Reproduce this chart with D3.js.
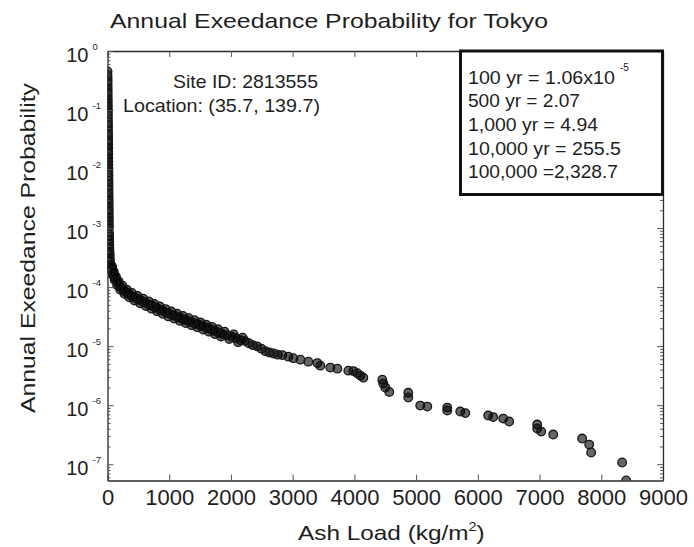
<!DOCTYPE html>
<html>
<head>
<meta charset="utf-8">
<script src="https://cdn.jsdelivr.net/npm/d3@7"></script>
<style>
  body { margin: 0; background: #fff; }
  svg { display: block; }
  text { font-family: "Liberation Sans", Arial, Helvetica, sans-serif; fill: #1e1e1e; }
</style>
</head>
<body>
<svg id="chart" width="694" height="547"></svg>
<script>
// Ash load (kg/m^2) for each simulated event
const ashLoad = [
  1, 1, 2, 2, 3, 3, 4, 4, 5, 5, 6, 6, 7, 7, 8, 8, 9, 9, 10, 10,
  11, 11, 12, 12, 13, 13, 14, 14, 15, 15, 16, 16, 17, 17, 18, 18, 19, 19, 20, 20,
  21, 21, 22, 22, 23, 24,
  25, 26, 27, 28, 29, 30, 32, 34, 36, 39, 42,
  57, 68, 79, 94, 108, 126, 146, 168, 194, 223,
  256, 291, 332, 372, 416, 461, 507, 554, 599, 644,
  690, 735, 780, 826, 871, 916, 963, 1010, 1057, 1104,
  1151, 1198, 1245, 1292, 1339, 1386, 1433, 1480, 1527, 1574,
  1619, 1668, 1716, 1765, 1813, 1862, 1935, 2008, 2080, 2153,
  2226, 2291, 2356, 2424, 2493, 2558, 2623, 2692, 2760, 2833,
  2930, 3011, 3125, 3254, 3400, 3448, 3610, 3724, 3902, 3983,
  4048, 4096, 4145, 4452, 4468, 4501, 4565, 4873, 4873, 5067,
  5181, 5505, 5505, 5715, 5796, 6168, 6249, 6411, 6508, 6962,
  6962, 7026, 7221, 7690, 7804, 7836, 8338, 8403,
  // events inside the dense low-load band
  50, 62, 73, 86, 101, 117, 136, 157, 181, 208,
  240, 274, 312, 352, 394, 438, 484, 530, 576, 622,
  667, 712, 758, 803, 848, 894, 940, 986, 1034, 1080,
  1128, 1174, 1222, 1268, 1316, 1362, 1410, 1456, 1504, 1550,
  1596, 1644, 1692, 1740, 1789, 1838, 1898, 1972, 2044, 2116,
  2190
];

// Annual exceedance probability of each event (same order as ashLoad)
const exceedProb = [
  0.45, 0.39, 0.34, 0.30, 0.26, 0.23, 0.20, 0.175, 0.153, 0.134,
  0.117, 0.102, 0.089, 0.078, 0.068, 0.059, 0.052, 0.045, 0.039, 0.034,
  0.030, 0.026, 0.023, 0.020, 0.0175, 0.0153, 0.0134, 0.0117, 0.0102, 0.0089,
  0.0078, 0.0068, 0.0059, 0.0052, 0.0045, 0.0039, 0.0034, 0.0030, 0.0026, 0.0023,
  0.0020, 0.00175, 0.00153, 0.00134, 0.00117, 0.00102,
  8.3e-4, 7.4e-4, 6.6e-4, 5.9e-4, 5.2e-4, 4.6e-4, 4.1e-4, 3.7e-4, 3.3e-4, 2.9e-4, 2.6e-4,
  2.30e-4, 2.09e-4, 1.90e-4, 1.72e-4, 1.56e-4, 1.42e-4, 1.28e-4, 1.16e-4, 1.06e-4, 9.77e-5,
  9.04e-5, 8.36e-5, 7.80e-5, 7.32e-5, 6.88e-5, 6.49e-5, 6.17e-5, 5.84e-5, 5.53e-5, 5.24e-5,
  4.98e-5, 4.73e-5, 4.50e-5, 4.28e-5, 4.07e-5, 3.87e-5, 3.67e-5, 3.51e-5, 3.36e-5, 3.22e-5,
  3.08e-5, 2.95e-5, 2.83e-5, 2.71e-5, 2.60e-5, 2.50e-5, 2.40e-5, 2.30e-5, 2.21e-5, 2.11e-5,
  2.02e-5, 1.93e-5, 1.84e-5, 1.76e-5, 1.68e-5, 1.60e-5, 1.53e-5, 1.44e-5, 1.37e-5, 1.26e-5,
  1.22e-5, 1.12e-5, 1.04e-5, 9.93e-6, 9.08e-6, 8.23e-6, 7.82e-6, 7.52e-6, 7.18e-6, 7.05e-6,
  6.64e-6, 6.26e-6, 5.91e-6, 5.47e-6, 5.16e-6, 4.68e-6, 4.33e-6, 4.16e-6, 3.85e-6, 3.78e-6,
  3.49e-6, 3.17e-6, 2.93e-6, 2.71e-6, 2.32e-6, 1.99e-6, 1.68e-6, 1.62e-6, 1.35e-6, 9.84e-7,
  9.46e-7, 9.10e-7, 8.11e-7, 7.80e-7, 7.35e-7, 6.67e-7, 6.29e-7, 5.93e-7, 5.28e-7, 4.70e-7,
  4.02e-7, 3.57e-7, 3.18e-7, 2.72e-7, 2.15e-7, 1.58e-7, 1.07e-7, 5.3e-8,
  // events inside the dense low-load band
  2.45e-4, 1.95e-4, 2.24e-4, 1.61e-4, 1.84e-4, 1.32e-4, 1.52e-4, 1.08e-4, 1.25e-4, 9.06e-5,
  1.06e-4, 7.74e-5, 9.08e-5, 6.72e-5, 7.98e-5, 5.95e-5, 7.11e-5, 5.34e-5, 6.39e-5, 4.79e-5,
  5.74e-5, 4.32e-5, 5.19e-5, 3.91e-5, 4.69e-5, 3.53e-5, 4.24e-5, 3.19e-5, 3.86e-5, 2.93e-5,
  3.54e-5, 2.68e-5, 3.25e-5, 2.46e-5, 2.98e-5, 2.27e-5, 2.75e-5, 2.09e-5, 2.53e-5, 1.92e-5,
  2.32e-5, 1.76e-5, 2.12e-5, 1.60e-5, 1.93e-5, 1.46e-5, 1.76e-5, 1.32e-5, 1.58e-5, 1.17e-5,
  1.39e-5
];

const xTickValues = [0, 1000, 2000, 3000, 4000, 5000, 6000, 7000, 8000, 9000];
const yTickExponents = [0, -1, -2, -3, -4, -5, -6, -7];
const xDomain = [0, 9000];
const yDomain = [5.3e-8, 1];

const titleText = "Annual Exeedance Probability for Tokyo";
const xLabelText = "Ash Load (kg/m";
const yLabelText = "Annual Exeedance Probability";
const siteLines = ["Site ID: 2813555", "Location: (35.7, 139.7)"];
const returnLines = ["100 yr = 1.06x10", "500 yr = 2.07", "1,000 yr = 4.94", "10,000 yr = 255.5", "100,000 =2,328.7"];
const returnExponent = "-5";

// ---- layout ----
const svg = d3.select("#chart");
const P = { left: 107.5, right: 663, top: 51, bottom: 480.5 };

const x = d3.scaleLinear().domain(xDomain).range([P.left, P.right]);
const y = d3.scaleLog().domain(yDomain).range([P.bottom, P.top]);

svg.append("rect").attr("width", 694).attr("height", 547).attr("fill", "#fff");

svg.append("defs").append("clipPath").attr("id", "plotClip")
  .append("rect")
  .attr("x", P.left).attr("y", P.top)
  .attr("width", P.right - P.left).attr("height", P.bottom - P.top);

// ---- scatter of events: translucent markers so overlapping events build up to black ----
const events = ashLoad.map((a, i) => ({ ash: a, prob: exceedProb[i] }))
  .sort((a, b) => a.ash - b.ash);
svg.append("g").attr("clip-path", "url(#plotClip)")
  .selectAll("circle").data(events).join("circle")
  .attr("cx", d => x(d.ash))
  .attr("cy", d => y(d.prob))
  .attr("r", 4.3)
  .attr("fill", "#000")
  .attr("fill-opacity", 0.6)
  .attr("stroke", "#161616")
  .attr("stroke-width", 1.3);

// ---- axes (inward ticks on all four sides) ----
const majorY = yTickExponents.map(e => Math.pow(10, e));
const minorY = [];
for (let e = -8; e < 0; e++) {
  for (let m = 2; m <= 9; m++) {
    const v = m * Math.pow(10, e);
    if (v >= yDomain[0] && v < yDomain[1]) minorY.push(v);
  }
}

function styleAxis(g) {
  g.attr("font-family", null).attr("font-size", null);
  g.selectAll(".domain").attr("stroke", "#2a2a2a").attr("stroke-width", 1.3);
  g.selectAll(".tick line").attr("stroke", "#555").attr("stroke-width", 1);
}

svg.append("g").attr("transform", `translate(0,${P.bottom})`)
  .call(d3.axisBottom(x).tickValues(xTickValues).tickSizeInner(-6).tickSizeOuter(0)
    .tickPadding(9).tickFormat(d3.format("d")))
  .call(styleAxis)
  .call(g => g.selectAll(".tick text").attr("font-size", 22).attr("fill", "#1e1e1e"));

svg.append("g").attr("transform", `translate(0,${P.top})`)
  .call(d3.axisTop(x).tickValues(xTickValues).tickSizeInner(-6).tickSizeOuter(0).tickFormat(""))
  .call(styleAxis);

svg.append("g").attr("transform", `translate(${P.left},0)`)
  .call(d3.axisLeft(y).tickValues(majorY).tickSizeInner(-6).tickSizeOuter(0).tickFormat(""))
  .call(styleAxis);
svg.append("g").attr("transform", `translate(${P.left},0)`)
  .call(d3.axisLeft(y).tickValues(minorY).tickSizeInner(-3).tickSizeOuter(0).tickFormat(""))
  .call(styleAxis).call(g => g.select(".domain").remove());

svg.append("g").attr("transform", `translate(${P.right},0)`)
  .call(d3.axisRight(y).tickValues(majorY).tickSizeInner(-6).tickSizeOuter(0).tickFormat(""))
  .call(styleAxis);
svg.append("g").attr("transform", `translate(${P.right},0)`)
  .call(d3.axisRight(y).tickValues(minorY).tickSizeInner(-3).tickSizeOuter(0).tickFormat(""))
  .call(styleAxis).call(g => g.select(".domain").remove());

// power-of-ten labels on the log axis
const yLab = svg.append("g");
yTickExponents.forEach(e => {
  const ty = y(Math.pow(10, e));
  yLab.append("text").attr("x", 88.5).attr("y", ty + 11)
    .attr("text-anchor", "end").attr("font-size", 20).text("10");
  yLab.append("text").attr("x", 92.5).attr("y", ty - 1)
    .attr("font-size", 9.5).text(String(e));
});

// ---- titles ----
svg.append("text").attr("x", 110).attr("y", 28)
  .attr("font-size", 21).attr("textLength", 438).attr("lengthAdjust", "spacingAndGlyphs")
  .text(titleText);

svg.append("text").attr("transform", "translate(35,248) rotate(-90)")
  .attr("text-anchor", "middle").attr("font-size", 21)
  .attr("textLength", 330).attr("lengthAdjust", "spacingAndGlyphs")
  .text(yLabelText);

const xl = svg.append("text").attr("transform", "translate(298,540) scale(1.16,1)")
  .attr("font-size", 21);
xl.append("tspan").text(xLabelText);
xl.append("tspan").attr("font-size", 12.5).attr("dy", -9).text("2");
xl.append("tspan").attr("dy", 9).text(")");

// ---- site annotation ----
const siteX = [173, 123], siteY = [88, 111.5], siteW = [145, 197];
siteLines.forEach((s, i) => {
  svg.append("text").attr("x", siteX[i]).attr("y", siteY[i])
    .attr("font-size", 18.5).attr("textLength", siteW[i]).attr("lengthAdjust", "spacingAndGlyphs")
    .text(s);
});

// ---- return-period box ----
svg.append("rect").attr("x", 460.5).attr("y", 51).attr("width", 202).attr("height", 143.5)
  .attr("fill", "#fff").attr("stroke", "#111").attr("stroke-width", 3);

const lineW = [147, 112, 130, 153, 150];
returnLines.forEach((s, i) => {
  svg.append("text").attr("x", 468).attr("y", 83.5 + i * 23.7)
    .attr("font-size", 18.5).attr("textLength", lineW[i]).attr("lengthAdjust", "spacingAndGlyphs")
    .text(s);
});
svg.append("text").attr("x", 620).attr("y", 71).attr("font-size", 10).text(returnExponent);
</script>
</body>
</html>
